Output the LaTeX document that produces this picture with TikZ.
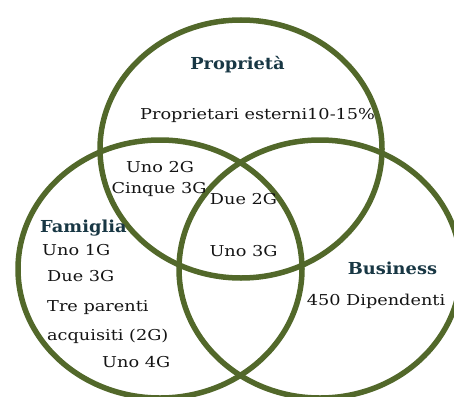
\documentclass[tikz,border=0pt]{standalone}
\usepackage{fontspec}
\setmainfont[FakeStretch=1.18,BoldFeatures={FakeStretch=1.08}]{DejaVu Serif}
\definecolor{ring}{RGB}{82,104,42}
\definecolor{titlecol}{RGB}{24,55,68}
\definecolor{textcol}{RGB}{20,20,20}
\begin{document}
\begin{tikzpicture}[x=1pt,y=-1pt,
  ringline/.style={draw=ring,line width=5.5pt},
  label/.style={inner sep=0pt,text=textcol,font=\fontsize{15}{17}\selectfont},
  heading/.style={inner sep=0pt,text=titlecol,font=\fontsize{16.5}{18}\selectfont\bfseries}]
\useasboundingbox (0,0) rectangle (454,396);

% the three sets
\path[ringline] (241,149) ellipse [x radius=141, y radius=129];
\path[ringline] (160,269) ellipse [x radius=142, y radius=129];
\path[ringline] (320,269) ellipse [x radius=141, y radius=129];

% set titles
\node[heading,anchor=base] (prop) at (237.5,69) {Proprietà};
\node[heading,anchor=base west] (fam) at (40,232) {Famiglia};
\node[heading,anchor=base] (bus) at (392.5,274) {Business};

% ownership only
\node[label,anchor=base west] (ext) at (140,119) {Proprietari esterni10-15\%};

% ownership and family
\node[label,anchor=base] (p1) at (160,172) {Uno 2G};
\node[label,anchor=base] (p2) at (159,193) {Cinque 3G};

% all three
\node[label,anchor=base] (c1) at (243.5,204) {Due 2G};
\node[label,anchor=base] (c2) at (243.5,256) {Uno 3G};

% family only
\node[label,anchor=base west] (f1) at (42,255) {Uno 1G};
\node[label,anchor=base west] (f2) at (47,281) {Due 3G};
\node[label,anchor=base west] (f3) at (47,311) {Tre parenti};
\node[label,anchor=base west] (f4) at (47,340) {acquisiti (2G)};
\node[label,anchor=base west] (f5) at (102,367) {Uno 4G};

% business only
\node[label,anchor=base] (b1) at (376,305) {450 Dipendenti};
\end{tikzpicture}
\end{document}
